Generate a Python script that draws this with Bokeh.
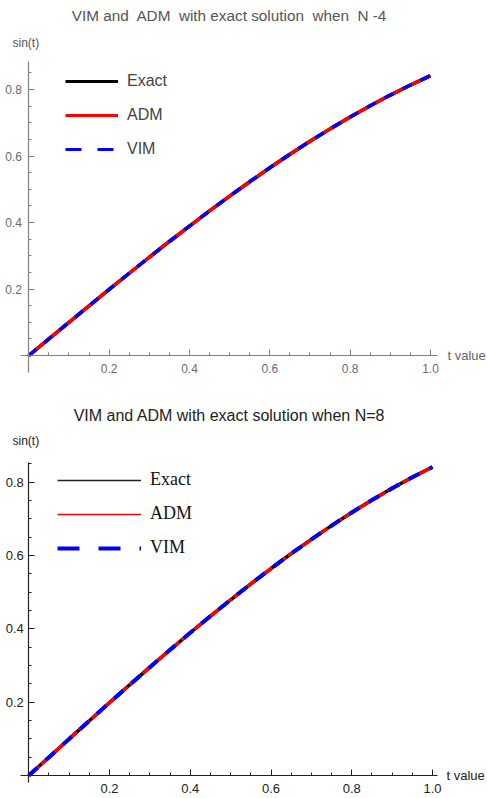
import numpy as np
from bokeh.plotting import figure
from bokeh.layouts import column
from bokeh.models import (Range1d, FixedTicker, Legend, LegendItem, Label,
                          ColumnDataSource, CDSView, IndexFilter,
                          PrintfTickFormatter)
from bokeh.embed import file_html
from bokeh.resources import INLINE

# ---------------- data ----------------
t_values = [0.0, 0.05, 0.10, 0.15, 0.20, 0.25, 0.30, 0.35, 0.40, 0.45, 0.50,
            0.55, 0.60, 0.65, 0.70, 0.75, 0.80, 0.85, 0.90, 0.95, 1.0]
exact = [0.0, 0.0500, 0.0998, 0.1494, 0.1987, 0.2474, 0.2955, 0.3429, 0.3894,
         0.4350, 0.4794, 0.5227, 0.5646, 0.6052, 0.6442, 0.6816, 0.7174,
         0.7513, 0.7833, 0.8134, 0.8415]
adm_n4 = [0.0, 0.0500, 0.0998, 0.1494, 0.1987, 0.2474, 0.2955, 0.3429, 0.3894,
          0.4350, 0.4794, 0.5227, 0.5646, 0.6052, 0.6442, 0.6816, 0.7174,
          0.7513, 0.7833, 0.8134, 0.8415]
vim_n4 = [0.0, 0.0500, 0.0998, 0.1494, 0.1987, 0.2474, 0.2955, 0.3429, 0.3894,
          0.4350, 0.4794, 0.5227, 0.5646, 0.6052, 0.6442, 0.6816, 0.7174,
          0.7513, 0.7833, 0.8134, 0.8415]
adm_n8 = [0.0, 0.0500, 0.0998, 0.1494, 0.1987, 0.2474, 0.2955, 0.3429, 0.3894,
          0.4350, 0.4794, 0.5227, 0.5646, 0.6052, 0.6442, 0.6816, 0.7174,
          0.7513, 0.7833, 0.8134, 0.8415]
vim_n8 = [0.0, 0.0500, 0.0998, 0.1494, 0.1987, 0.2474, 0.2955, 0.3429, 0.3894,
          0.4350, 0.4794, 0.5227, 0.5646, 0.6052, 0.6442, 0.6816, 0.7174,
          0.7513, 0.7833, 0.8134, 0.8415]

x_major_ticks = [0.2, 0.4, 0.6, 0.8, 1.0]
y_major_ticks = [0.2, 0.4, 0.6, 0.8]
legend_labels = ["Exact", "ADM", "VIM"]
titles = ["VIM and\u00a0 ADM\u00a0 with exact solution\u00a0 when\u00a0 N -4",
          "VIM and ADM with exact solution when N=8"]
y_label = "sin(t)"
x_label_top = "t value"
x_label_bottom = "t value"

x_minor = [round(v, 2) for v in np.arange(0.05, 1.0001, 0.05)]
y_minor = [round(v, 2) for v in np.arange(0.05, 0.8501, 0.05)]

W = 487


def make_fig(height, xr, yr, xb, yb, style):
    p = figure(width=W, height=height, output_backend="svg",
               toolbar_location=None, x_range=Range1d(*xr),
               y_range=Range1d(*yr), min_border=0)
    p.outline_line_color = None
    p.xgrid.visible = False
    p.ygrid.visible = False
    p.background_fill_color = "white"
    p.border_fill_color = "white"
    p.xaxis.ticker = FixedTicker(ticks=x_major_ticks, minor_ticks=x_minor)
    p.yaxis.ticker = FixedTicker(ticks=y_major_ticks, minor_ticks=y_minor)
    p.xaxis.formatter = PrintfTickFormatter(format="%.1f")
    p.yaxis.formatter = PrintfTickFormatter(format="%.1f")
    p.xaxis.fixed_location = 0
    p.yaxis.fixed_location = 0
    p.xaxis.bounds = xb
    p.yaxis.bounds = yb
    for ax in (p.xaxis[0], p.yaxis[0]):
        ax.axis_line_color = style["axis"]
        ax.axis_line_width = 1.2
        ax.major_tick_line_color = style["axis"]
        ax.minor_tick_line_color = style["axis"]
        ax.major_tick_in = 6
        ax.major_tick_out = 0
        ax.minor_tick_in = 3
        ax.minor_tick_out = 0
        ax.major_label_text_font = "Liberation Sans"
        ax.major_label_text_font_size = style["tick_size"]
        ax.major_label_text_color = style["tick_color"]
    p.xaxis.major_label_standoff = style["xstand"]
    p.yaxis.major_label_standoff = style["ystand"]
    return p


def add_text(p, height, text, x, y, size, color, font, align="left"):
    # x, y: pixel position from the figure's top-left corner
    p.add_layout(Label(x=x, y=height - y, x_units="screen", y_units="screen",
                       text=text, text_font=font, text_font_size=size,
                       text_color=color, text_align=align,
                       text_baseline="middle"))


def legend_renderer(p, src, col, **kw):
    # a one-point view: nothing is drawn in the plot, only the legend swatch
    return p.line("t", col, source=src, view=CDSView(filter=IndexFilter([0])),
                  **kw)


# ---------------- top chart (N = 4) ----------------
H1 = 396
s1 = dict(axis="#808080", tick_size="12px", tick_color="#6a6a6a",
          xstand=8, ystand=7)
p1 = make_fig(H1, (-0.0705, 1.1419), (-0.1233, 1.0677),
              (-0.02, 1.017), (-0.051, 0.884), s1)
src1 = ColumnDataSource(dict(t=t_values, ex=exact, adm=adm_n4, vim=vim_n4))
p1.line("t", "ex", source=src1, line_color="black", line_width=3.5)
p1.line("t", "adm", source=src1, line_color="#ff0000", line_width=3.5)
p1.line("t", "vim", source=src1, line_color="#0000ff", line_width=3.5,
        line_dash="10 10")
l1a = legend_renderer(p1, src1, "ex", line_color="black", line_width=3)
l1b = legend_renderer(p1, src1, "adm", line_color="#ff0000", line_width=3)
l1c = legend_renderer(p1, src1, "vim", line_color="#0000ff", line_width=3,
                      line_dash="16 16")
leg1 = Legend(items=[LegendItem(label=legend_labels[0], renderers=[l1a]),
                     LegendItem(label=legend_labels[1], renderers=[l1b]),
                     LegendItem(label=legend_labels[2], renderers=[l1c])],
              location=(65, 237), glyph_width=53, glyph_height=20,
              label_height=20, spacing=14, label_standoff=9, padding=0,
              margin=0, border_line_color=None, background_fill_alpha=0,
              label_text_font="Liberation Sans", label_text_font_size="16px",
              label_text_color="#444444")
p1.add_layout(leg1, "center")
add_text(p1, H1, titles[0], 229, 15, "15.3px", "#555555", "Liberation Sans",
         align="center")
add_text(p1, H1, y_label, 12, 42, "12px", "#555555", "Liberation Sans")
add_text(p1, H1, x_label_top, 447, 355, "13px", "#666666", "Liberation Sans")

# ---------------- bottom chart (N = 8) ----------------
H2 = 402
s2 = dict(axis="#222222", tick_size="13px", tick_color="#222222",
          xstand=8, ystand=5)
p2 = make_fig(H2, (-0.0701, 1.1362), (-0.0627, 1.0338),
              (-0.02, 1.012), (-0.019, 0.854), s2)
src2 = ColumnDataSource(dict(t=t_values, ex=exact, adm=adm_n8, vim=vim_n8))
p2.line("t", "ex", source=src2, line_color="black", line_width=3.5)
p2.line("t", "adm", source=src2, line_color="#ff0000", line_width=3.5,
        line_dash="14 3")
p2.line("t", "vim", source=src2, line_color="#0000ff", line_width=4,
        line_dash="12 11")
l2a = legend_renderer(p2, src2, "ex", line_color="#222222", line_width=1.5)
l2b = legend_renderer(p2, src2, "adm", line_color="#ff0000", line_width=1.5)
l2c = legend_renderer(p2, src2, "vim", line_color="#0000ff", line_width=4,
                      line_dash="22 19")
leg2 = Legend(items=[LegendItem(label=legend_labels[0], renderers=[l2a]),
                     LegendItem(label=legend_labels[1], renderers=[l2b]),
                     LegendItem(label=legend_labels[2], renderers=[l2c])],
              location=(57, 240), glyph_width=84, glyph_height=20,
              label_height=20, spacing=13, label_standoff=9, padding=0,
              margin=0, border_line_color=None, background_fill_alpha=0,
              label_text_font="Liberation Serif", label_text_font_size="18px",
              label_text_color="#111111")
p2.add_layout(leg2, "center")
add_text(p2, H2, titles[1], 229, 19, "16px", "#222222", "Liberation Sans",
         align="center")
add_text(p2, H2, y_label, 12, 44, "12px", "#222222", "Liberation Sans")
add_text(p2, H2, x_label_bottom, 446, 379, "13px", "#222222", "Liberation Sans")

layout = column(p1, p2, spacing=0)
open("out.html", "w").write(file_html(layout, INLINE))
